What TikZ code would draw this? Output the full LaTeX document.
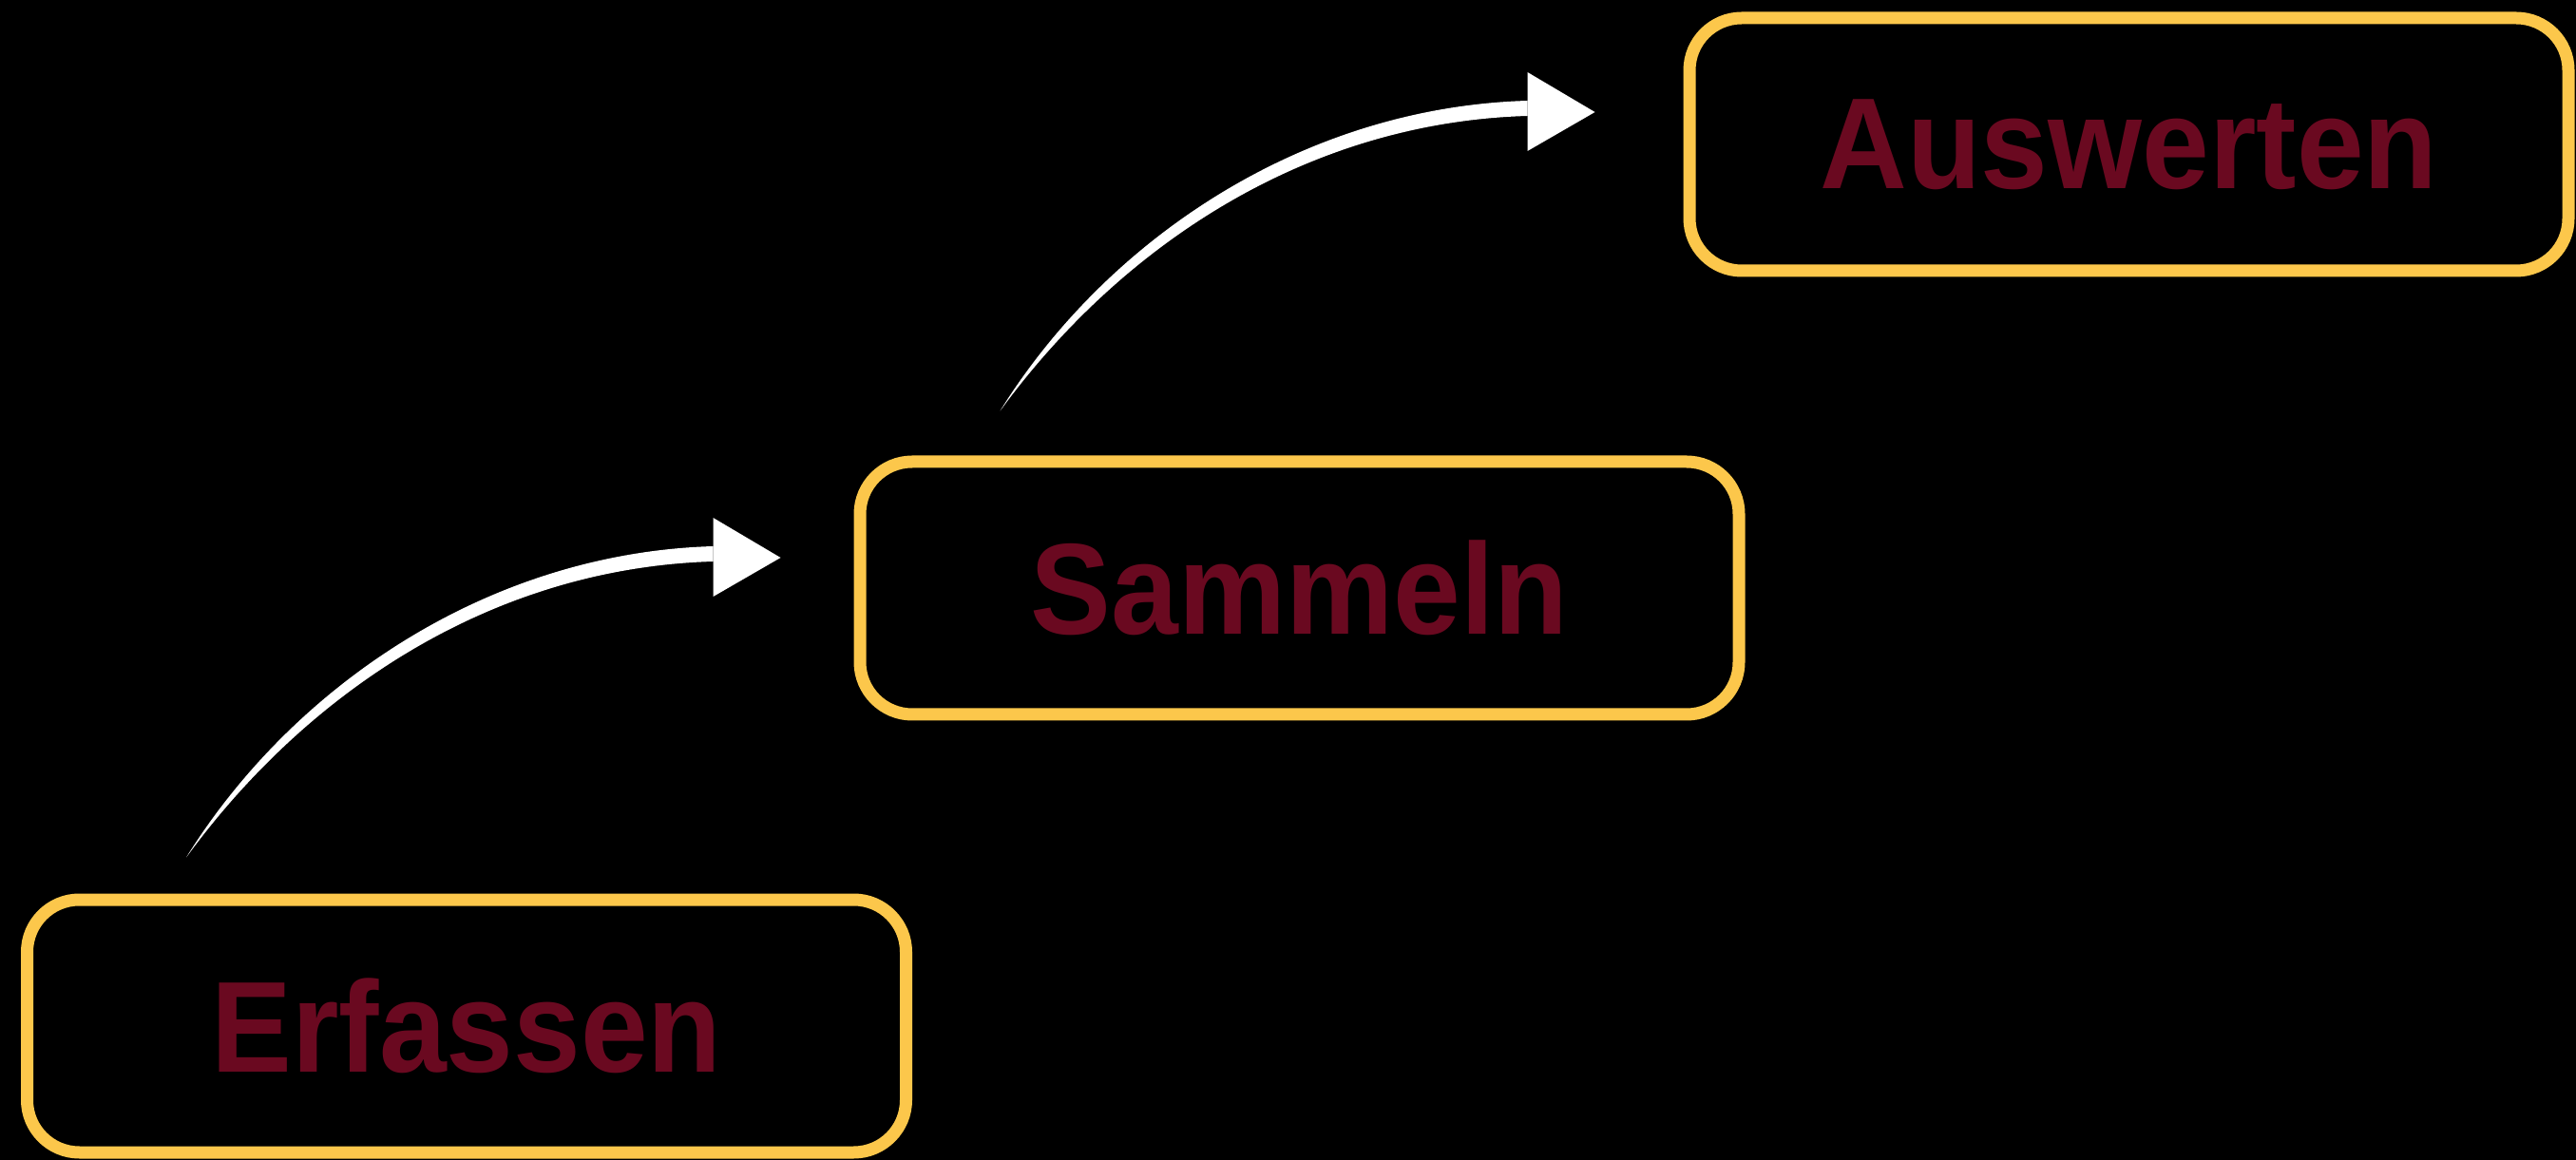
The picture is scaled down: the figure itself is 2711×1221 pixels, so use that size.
\documentclass[tikz,border=0pt]{standalone}
\usepackage{fontspec}
\setmainfont{Liberation Sans}
\usetikzlibrary{calc}
\definecolor{boxyellow}{RGB}{252,199,75}
\definecolor{wine}{RGB}{106,9,32}
\tikzset{
  stepbox/.style={draw=boxyellow, line width=1.3mm, rounded corners=5.5mm,
    minimum width=92.5mm, minimum height=26.6mm, inner sep=0pt,
    text=wine, font=\fontsize{37.3pt}{40pt}\selectfont\bfseries},
  chalk/.style={fill=white, draw=none}
}
\begin{document}
\begin{tikzpicture}[x=0.1mm, y=-0.1mm]
  \fill[black] (0,0) rectangle (2711,1221);
  \useasboundingbox (0,0) rectangle (2711,1221);

  \node[stepbox] (erf) at (491,1080) {\raisebox{-0.4mm}{\scalebox{0.97}[1.04]{Erfassen}}};
  \node[stepbox] (sam) at (1367.5,619) {\raisebox{-0.4mm}{\scalebox{0.97}[1.04]{Sammeln}}};
  \node[stepbox] (aus) at (2240.5,152) {\raisebox{-0.4mm}{\scalebox{0.97}[1.04]{Auswerten}}};

  % arrow 1: from above Erfassen to left of Sammeln
  \coordinate (t1) at ($(erf.north west)+(174,-38)$);
  \coordinate (h1) at ($(sam.west)+(-77,-32)$);
  % arrow 2: from above Sammeln to left of Auswerten
  \coordinate (t2) at ($(sam.north west)+(154,-47)$);
  \coordinate (h2) at ($(aus.west)+(-93,-34)$);

  \foreach \t/\h in {t1/h1, t2/h2}{
    \fill[chalk] (\t) .. controls ($(\t)+(112,-180)$) and ($(\h)+(-308,-5)$) .. ($(\h)+(-71,-12)$)
      -- ($(\h)+(-71,4)$) .. controls ($(\h)+(-308,11)$) and ($(\t)+(124,-170)$) .. (\t) -- cycle;
    \fill[chalk] ($(\h)+(-71,-42)$) -- (\h) -- ($(\h)+(-71,41)$) -- cycle;
  }
\end{tikzpicture}
\end{document}
